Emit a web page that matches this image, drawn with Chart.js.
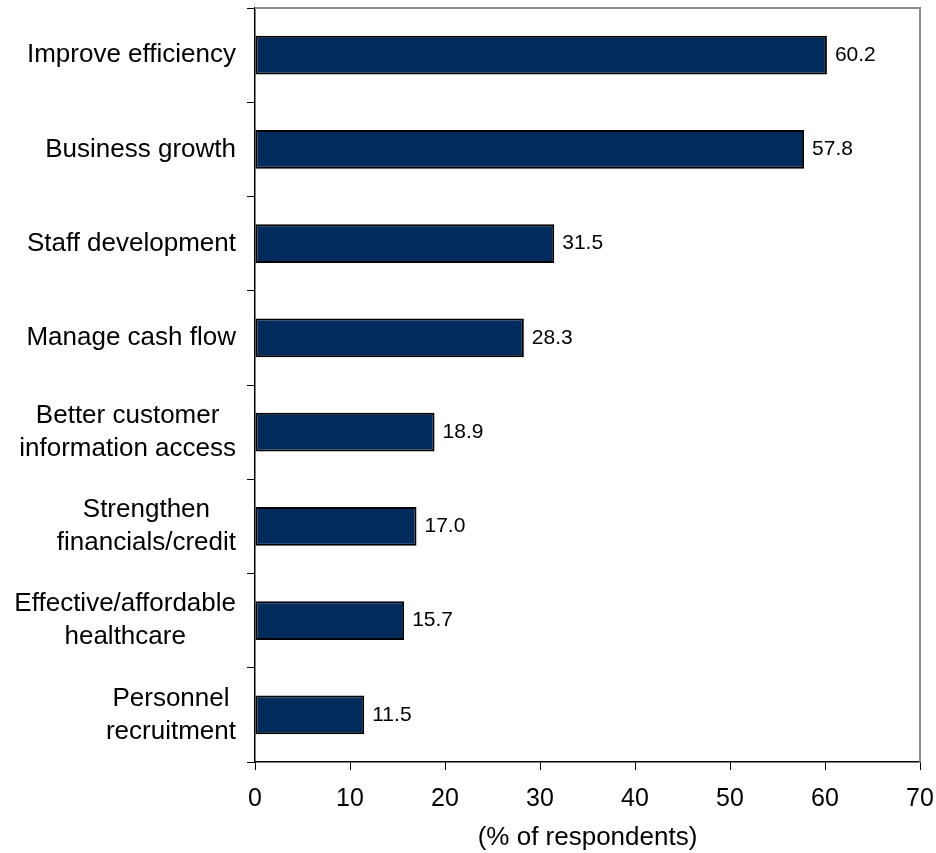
<!DOCTYPE html>
<html>
<head>
<meta charset="utf-8">
<script src="https://cdn.jsdelivr.net/npm/chart.js@4/dist/chart.umd.min.js"></script>
<style>
	body { margin: 0; background: #fff; }
	#wrap { width: 936px; height: 853px; }
</style>
</head>
<body>
<div id="wrap"><canvas id="resultChart" width="936" height="853"></canvas></div>
<script>
"use strict";
// data
var categories = [
	"Improve efficiency",
	"Business growth",
	"Staff development",
	"Manage cash flow",
	["Better customer", "information access"],
	["Strengthen", "financials/credit"],
	["Effective/affordable", "healthcare"],
	["Personnel", "recruitment"]
];
var values = [60.2, 57.8, 31.5, 28.3, 18.9, 17.0, 15.7, 11.5];
var xTicks = [0, 10, 20, 30, 40, 50, 60, 70];
var axisTitle = "(% of respondents)";

var fontFamily = "Arial, 'Liberation Sans', sans-serif";

// grey frame on top and right of plot, like the original
var framePlugin = {
	id: 'frame',
	afterDraw: function (chart) {
		var a = chart.chartArea, c = chart.ctx;
		c.save();
		c.strokeStyle = '#8c8c8c';
		c.lineWidth = 2;
		c.beginPath();
		c.moveTo(a.left, a.top);
		c.lineTo(a.right, a.top);
		c.lineTo(a.right, a.bottom);
		c.stroke();
		c.restore();
	}
};

// category labels: block right aligned, lines centred inside the block
var categoryLabels = {
	id: 'categoryLabels',
	afterDraw: function (chart) {
		var c = chart.ctx;
		var scale = chart.scales.y;
		var right = chart.chartArea.left - 19;
		c.save();
		c.font = "26px " + fontFamily;
		c.fillStyle = '#000';
		c.textAlign = 'center';
		c.textBaseline = 'middle';
		categories.forEach(function (lab, i) {
			var lines = Array.isArray(lab) ? lab : [lab];
			var w = 0;
			lines.forEach(function (l) { w = Math.max(w, c.measureText(l).width); });
			var y = scale.getPixelForTick(i);
			lines.forEach(function (l, j) {
				c.fillText(l, right - w / 2, y + (j - (lines.length - 1) / 2) * 33);
			});
		});
		c.restore();
	}
};

// value labels at the end of each bar
var valueLabels = {
	id: 'valueLabels',
	afterDatasetsDraw: function (chart) {
		var c = chart.ctx;
		var meta = chart.getDatasetMeta(0);
		c.save();
		c.font = "21px " + fontFamily;
		c.fillStyle = '#000';
		c.textAlign = 'left';
		c.textBaseline = 'middle';
		meta.data.forEach(function (bar, i) {
			c.fillText(values[i].toFixed(1), bar.x + 8, bar.y);
		});
		c.restore();
	}
};

var ctx = document.getElementById("resultChart");
var config = {
	type: "bar",
	data: {
		labels: categories,
		datasets: [{
			data: values,
			backgroundColor: '#002b5c',
			borderColor: '#000',
			borderWidth: 2,
			borderSkipped: false,
			barPercentage: 0.41,
			categoryPercentage: 1
		}]
	},
	options: {
		indexAxis: 'y',
		responsive: false,
		animation: false,
		layout: { padding: { top: 8, right: 16, left: 0, bottom: 0 } },
		plugins: {
			legend: { display: false },
			tooltip: { enabled: false }
		},
		scales: {
			x: {
				min: 0,
				max: 70,
				afterBuildTicks: function (scale) {
					scale.ticks = xTicks.map(function (v) { return { value: v }; });
				},
				afterFit: function (scale) {
					scale.height = 91;
					scale.paddingLeft = 0;
					scale.paddingRight = 0;
				},
				grid: {
					drawOnChartArea: false,
					drawTicks: true,
					tickLength: 8,
					color: '#000',
					lineWidth: 1
				},
				border: { display: true, color: '#000', width: 1.5 },
				ticks: {
					padding: 14,
					color: '#000',
					maxRotation: 0,
					font: { size: 25, family: fontFamily }
				},
				title: {
					display: true,
					text: axisTitle,
					color: '#000',
					padding: { top: 0, bottom: 0 },
					font: { size: 26, family: fontFamily }
				}
			},
			y: {
				afterFit: function (scale) {
					scale.width = 255;
					scale.paddingTop = 0;
					scale.paddingBottom = 0;
				},
				grid: {
					drawOnChartArea: false,
					drawTicks: true,
					tickLength: 8,
					color: '#000',
					lineWidth: 1
				},
				border: { display: true, color: '#000', width: 1.5 },
				ticks: { display: false }
			}
		}
	},
	plugins: [framePlugin, categoryLabels, valueLabels]
};
var resultChart = new Chart(ctx, config);
</script>
</body>
</html>
